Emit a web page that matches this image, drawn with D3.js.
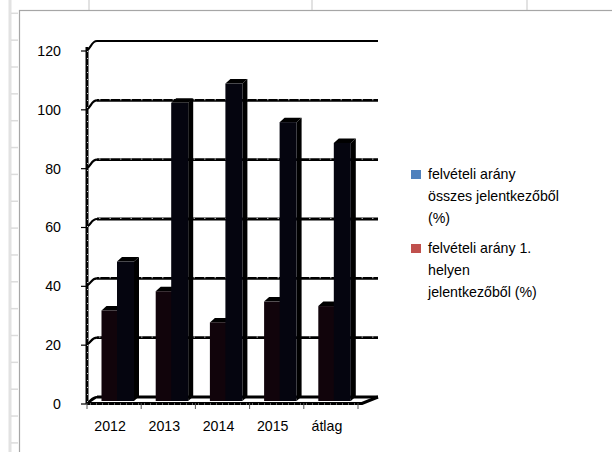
<!DOCTYPE html>
<html>
<head>
<meta charset="utf-8">
<script src="https://cdn.jsdelivr.net/npm/d3@7"></script>
<style>
  html, body { margin: 0; padding: 0; background: #ffffff; }
  svg { display: block; }
  text { font-family: "Liberation Sans", Arial, sans-serif; fill: #000; }
</style>
</head>
<body>
<script>
// ---- data ----
const categories = ["2012", "2013", "2014", "2015", "átlag"];
const series1 = [30.5, 37, 26.5, 33.5, 32];     // felvételi arány összes jelentkezőből (%)
const series2 = [47, 100.5, 107, 94, 87];       // felvételi arány 1. helyen jelentkezőből (%)
const yTicks = [0, 20, 40, 60, 80, 100, 120];
const legendLines = [
  ["felvételi arány", "összes jelentkezőből", "(%)"],
  ["felvételi arány 1.", "helyen", "jelentkezőből (%)"]
];
const legendColors = ["#4f81bd", "#c0504d"];
const barColors = ["#11040b", "#05050f"];
const sheetRows = d3.range(17);
const sheetCols = [89, 312, 527];

// ---- layout ----
const W = 612, H = 452;
const FS = 14.2;
const svg = d3.select("body").append("svg").attr("width", W).attr("height", H);

// spreadsheet background
const sheet = svg.append("g");
sheet.selectAll("line.col").data(sheetCols).join("line")
  .attr("x1", d => d).attr("x2", d => d).attr("y1", 0).attr("y2", 10)
  .attr("stroke", "#d9d9d9").attr("stroke-width", 1.5);
sheet.append("rect").attr("x", 8.5).attr("y", 0).attr("width", 3).attr("height", H).attr("fill", "#e2e2e2");
sheet.selectAll("line.row").data(sheetRows).join("line")
  .attr("x1", 11).attr("x2", 18)
  .attr("y1", d => 13.3 + d * 26.85).attr("y2", d => 13.3 + d * 26.85)
  .attr("stroke", "#dcdcdc").attr("stroke-width", 1.5);
// chart area
svg.append("rect").attr("x", 19.5).attr("y", 10.5).attr("width", W).attr("height", H)
  .attr("fill", "#fff").attr("stroke", "#a6a6a6").attr("stroke-width", 1.2);

// scales
const x = d3.scaleBand().domain(categories).range([87, 358]);
const yFront = d3.scaleLinear().domain([0, 120]).range([404, 51]);
const yBack = d3.scaleLinear().domain([0, 120]).range([397, 41]);
const yBar = d3.scaleLinear().domain([0, 120]).range([401, 45]);
const backL = 97, backR = 378, frontL = 87;

const plot = svg.append("g");

// back wall gridlines + left wall connectors
yTicks.forEach(v => {
  const sw = v === 120 ? 2 : 2.8;
  plot.append("line").attr("x1", backL).attr("x2", backR)
    .attr("y1", yBack(v)).attr("y2", yBack(v))
    .attr("stroke", "#000").attr("stroke-width", sw);
  if (v !== 120 && v !== 0) {
    plot.append("line").attr("x1", backL + 2).attr("x2", backR)
      .attr("y1", yBack(v) - 0.6).attr("y2", yBack(v) - 0.6)
      .attr("stroke", "#fff").attr("stroke-width", 0.7)
      .attr("stroke-dasharray", "1.5 9");
  }
  plot.append("path")
    .attr("d", `M${frontL},${yFront(v) - 1}C${frontL + 4},${yFront(v) - 2} ${backL - 6},${yBack(v)} ${backL},${yBack(v)}`)
    .attr("fill", "none").attr("stroke", "#000").attr("stroke-width", 2.2);
});

// vertical axis
plot.append("line").attr("x1", frontL).attr("x2", frontL)
  .attr("y1", yFront(120) - 4).attr("y2", yFront(0))
  .attr("stroke", "#000").attr("stroke-width", 3);
plot.append("line").attr("x1", frontL + 0.5).attr("x2", frontL + 0.5)
  .attr("y1", yFront(120)).attr("y2", yFront(0))
  .attr("stroke", "#fff").attr("stroke-width", 0.8).attr("stroke-dasharray", "1 6");

// y ticks and labels
yTicks.forEach(v => {
  plot.append("line").attr("x1", 81).attr("x2", frontL)
    .attr("y1", yFront(v)).attr("y2", yFront(v))
    .attr("stroke", "#000").attr("stroke-width", 1.2);
  plot.append("text").attr("x", 61).attr("y", yFront(v)).attr("dy", "0.35em")
    .attr("text-anchor", "end").attr("font-size", FS).text(v);
});

// bars (3D-ish columns)
const dx = 5, dy = -4.5, bw = 17;
const offsets = [14.5, 30];
categories.forEach((c, i) => {
  [series1[i], series2[i]].forEach((v, s) => {
    const x0 = x(c) + offsets[s], x1 = x0 + bw;
    const yt = yBar(v), yb = yBar(0);
    const g = plot.append("g");
    g.append("path").attr("d", `M${x1},${yb}L${x1},${yt}L${x1 + dx},${yt + dy}L${x1 + dx},${yb + dy}Z`)
      .attr("fill", "#000");
    g.append("path").attr("d", `M${x0},${yt}L${x0 + dx},${yt + dy}L${x1 + dx},${yt + dy}L${x1},${yt}Z`)
      .attr("fill", "#000");
    g.append("rect").attr("x", x0).attr("y", yt).attr("width", bw).attr("height", yb - yt)
      .attr("fill", barColors[s]);
  });
});

// floor front edge and right side
plot.append("path")
  .attr("d", `M${frontL},${yFront(0) - 0.5}L362,${yFront(0) - 0.5}L${backR},${yBack(0)}`)
  .attr("fill", "none").attr("stroke", "#000").attr("stroke-width", 3);
plot.append("path")
  .attr("d", `M${frontL},${yFront(0) - 0.5}L${backL},${yBack(0)}`)
  .attr("fill", "none").attr("stroke", "#000").attr("stroke-width", 2);
plot.append("line").attr("x1", frontL + 3).attr("x2", 360)
  .attr("y1", yFront(0)).attr("y2", yFront(0))
  .attr("stroke", "#fff").attr("stroke-width", 0.8).attr("stroke-dasharray", "1 5");

// category ticks and labels
const tickXs = categories.map(c => x(c)).concat([x.range()[1]]);
plot.selectAll("line.ctick").data(tickXs).join("line")
  .attr("x1", d => d).attr("x2", d => d)
  .attr("y1", yFront(0) - 1).attr("y2", yFront(0) + 5)
  .attr("stroke", "#555").attr("stroke-width", 1);
plot.selectAll("text.cat").data(categories).join("text")
  .attr("x", d => x(d) + x.bandwidth() / 2 - 4).attr("y", 431)
  .attr("text-anchor", "middle").attr("font-size", FS).text(d => d);

// legend
const leg = svg.append("g");
const legTop = [170, 244];
legendLines.forEach((lines, k) => {
  leg.append("rect").attr("x", 411).attr("y", legTop[k]).attr("width", 10).attr("height", 9)
    .attr("fill", legendColors[k]);
  lines.forEach((t, j) => {
    leg.append("text").attr("x", 428).attr("y", legTop[k] + 9 + j * 21.8)
      .attr("font-size", FS).text(t);
  });
});
</script>
</body>
</html>
